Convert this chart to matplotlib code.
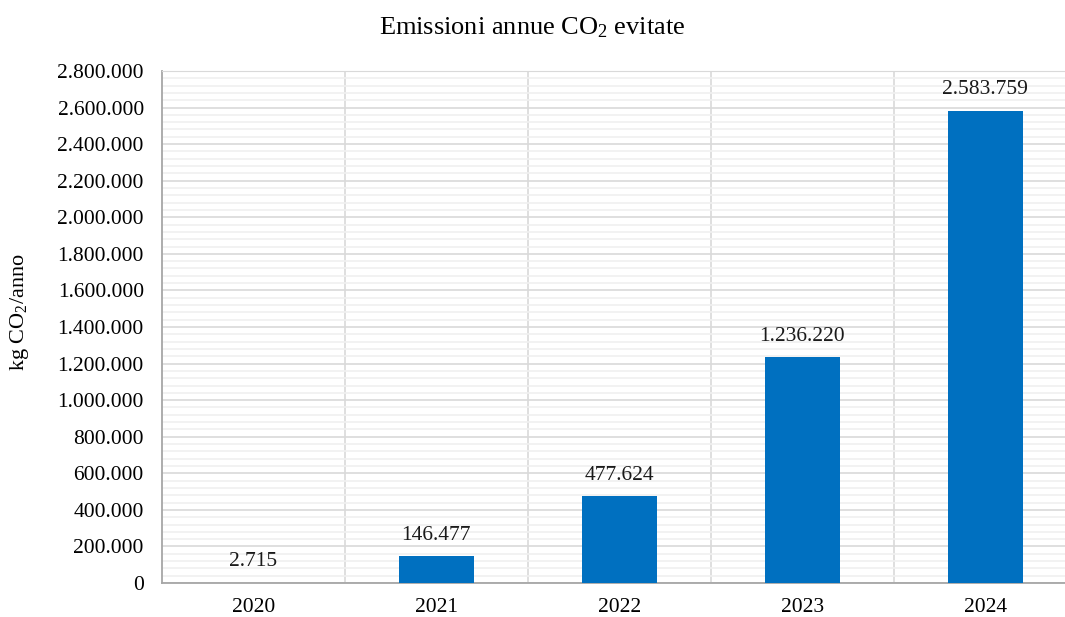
import matplotlib
matplotlib.use('Agg')
from matplotlib import pyplot as plt
from matplotlib.ticker import MultipleLocator, FuncFormatter

years = ['2020', '2021', '2022', '2023', '2024']
emissions = [2715, 146477, 477624, 1236220, 2583759]

BAR_COLOR = '#0070C0'


def it_fmt(v, pos=None):
    return f'{int(round(v)):,}'.replace(',', '.')


plt.rcParams['font.family'] = ['Liberation Serif', 'DejaVu Serif']
plt.rcParams['mathtext.default'] = 'regular'

fig = plt.figure(figsize=(10.65, 6.17), dpi=100)
ax = fig.add_axes([0.152, 0.055, 0.859, 0.830])

x = list(range(len(years)))
bars = ax.bar(x, emissions, 0.41, color=BAR_COLOR, zorder=3)

for xi, v in zip(x, emissions):
    ax.annotate(it_fmt(v), (xi, v), xytext=(0, 8), textcoords='offset points',
                ha='center', va='bottom', fontsize=15.5, color='#1a1a1a')

ax.set_xlim(-0.5, len(years) - 0.5)
ax.set_ylim(0, 2800000)
ax.yaxis.set_major_locator(MultipleLocator(200000))
ax.yaxis.set_minor_locator(MultipleLocator(40000))
ax.yaxis.set_major_formatter(FuncFormatter(it_fmt))
ax.set_xticks(x)
ax.set_xticklabels(years)
ax.set_xticks([i + 0.5 for i in x[:-1]], minor=True)

ax.grid(which='major', axis='y', color='#D9D9D9', linewidth=1.2, zorder=0)
ax.grid(which='minor', axis='y', color='#F0F0F0', linewidth=1.2, zorder=0)
ax.grid(which='minor', axis='x', color='#D9D9D9', linewidth=1.2, zorder=0)

ax.tick_params(axis='both', which='both', length=0)
ax.tick_params(axis='y', labelsize=15.5, pad=13)
ax.tick_params(axis='x', labelsize=15.5, pad=11)

for side in ('top', 'right'):
    ax.spines[side].set_color('#D9D9D9')
for side in ('left', 'bottom'):
    ax.spines[side].set_color('#A6A6A6')
    ax.spines[side].set_linewidth(1.3)

ax.set_ylabel('kg CO$_2$/anno', fontsize=16)
ax.yaxis.set_label_coords(-0.143, 0.53)
fig.suptitle('Emissioni annue CO$_2$ evitate', fontsize=19, y=0.975)

fig.savefig('out.png', dpi=100)
